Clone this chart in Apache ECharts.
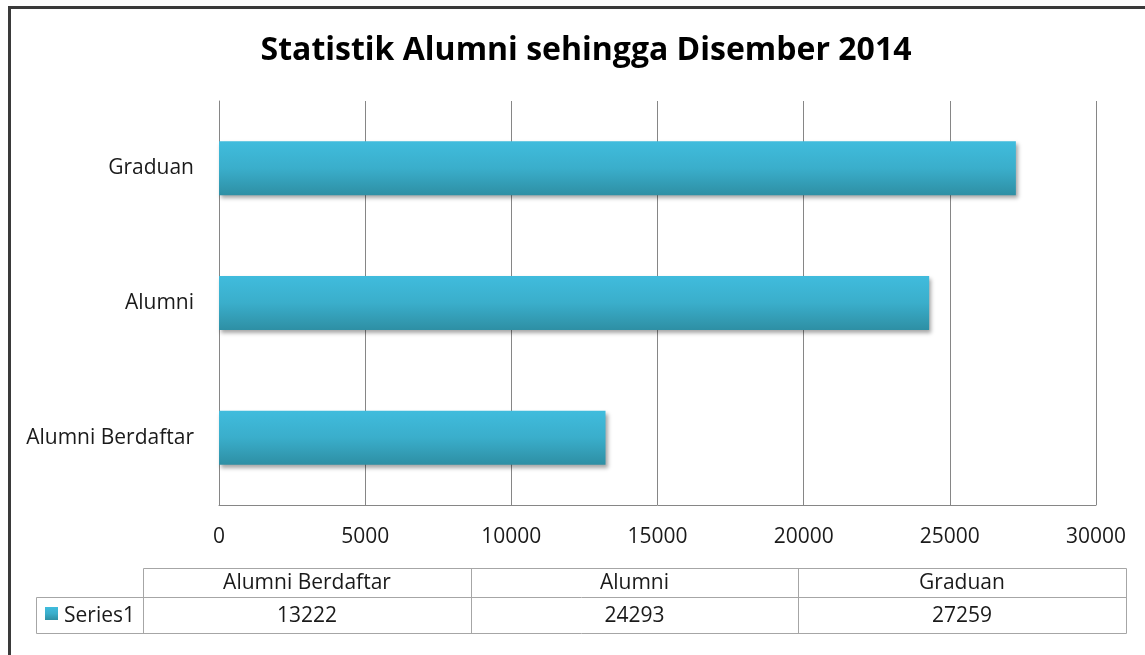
<!DOCTYPE html>
<html><head><meta charset="utf-8">
<script src="https://cdn.jsdelivr.net/npm/echarts@6/dist/echarts.min.js"></script>
<style>html,body{margin:0;padding:0;background:#fff}#c{width:1145px;height:655px}</style>
</head><body><div id="c"></div>
<script>
var title = 'Statistik Alumni sehingga Disember 2014';
var categories = ['Alumni Berdaftar', 'Alumni', 'Graduan'];
var seriesName = 'Series1';
var values = [13222, 24293, 27259];
var xTicks = [0, 5000, 10000, 15000, 20000, 25000, 30000];

var FONT = 'Open Sans';
var FS = 21;
var chart = echarts.init(document.getElementById('c'));
var barGrad = new echarts.graphic.LinearGradient(0, 0, 0, 1, [
  {offset: 0, color: '#40bcdd'}, {offset: 0.5, color: '#3aaecb'}, {offset: 1, color: '#2e8fa4'}
]);

var tableG = [];
var colX = [143, 471, 798, 1126];
var hdrTop = 568, midY = 597, botY = 633, legL = 36;
var lineStyle = {stroke: '#a6a6a6', lineWidth: 1};
function line(x1, y1, x2, y2) {
  tableG.push({type: 'line', shape: {x1: x1, y1: y1, x2: x2, y2: y2}, style: lineStyle, silent: true});
}
line(colX[0] + 0.5, hdrTop + 0.5, colX[3] + 0.5, hdrTop + 0.5);
line(legL + 0.5, midY + 0.5, colX[3] + 0.5, midY + 0.5);
line(legL + 0.5, botY + 0.5, colX[3] + 0.5, botY + 0.5);
line(legL + 0.5, midY + 0.5, legL + 0.5, botY + 0.5);
for (var i = 0; i < colX.length; i++) line(colX[i] + 0.5, hdrTop + 0.5, colX[i] + 0.5, botY + 0.5);
categories.forEach(function (c, i) {
  var cx = (colX[i] + colX[i + 1]) / 2;
  tableG.push({type: 'text', x: cx, y: (hdrTop + midY) / 2 + 1, style: {text: c, fontFamily: FONT, fontSize: FS, fill: '#1a1a1a', align: 'center', verticalAlign: 'middle'}});
  tableG.push({type: 'text', x: cx, y: (midY + botY) / 2 + 1, style: {text: String(values[i]), fontFamily: FONT, fontSize: FS, fill: '#1a1a1a', align: 'center', verticalAlign: 'middle'}});
});
tableG.push({type: 'rect', shape: {x: 45, y: 607, width: 13, height: 13}, style: {fill: barGrad}});
tableG.push({type: 'text', x: 64, y: (midY + botY) / 2 + 1, style: {text: seriesName, fontFamily: FONT, fontSize: FS, fill: '#1a1a1a', align: 'left', verticalAlign: 'middle'}});
tableG.push({type: 'rect', shape: {x: 9.5, y: 7.5, width: 1300, height: 800}, style: {fill: 'none', stroke: '#3a3a3a', lineWidth: 3}, silent: true});

chart.setOption({
  animation: false,
  title: {text: title, left: 581, textAlign: 'center', top: 30,
    textStyle: {fontFamily: FONT, fontSize: 32, fontWeight: 'bold', color: '#000'}},
  grid: {left: 219, right: 49, top: 101, bottom: 150, containLabel: false},
  xAxis: {type: 'value', min: 0, max: 30000, interval: 5000,
    axisLine: {show: true, lineStyle: {color: '#868686'}},
    axisTick: {show: false},
    splitLine: {show: true, lineStyle: {color: '#868686', width: 1}},
    axisLabel: {margin: 22, fontFamily: FONT, fontSize: FS, color: '#1a1a1a',
      formatter: function (v) { return xTicks.indexOf(v) >= 0 ? String(v) : ''; }}},
  yAxis: {type: 'category', data: categories,
    axisLine: {show: true, lineStyle: {color: '#868686'}},
    axisTick: {show: false},
    axisLabel: {margin: 25, fontFamily: FONT, fontSize: FS, color: '#1a1a1a'}},
  series: [{type: 'bar', name: seriesName, data: values, barWidth: 54,
    itemStyle: {color: barGrad, shadowColor: 'rgba(0,0,0,0.35)', shadowBlur: 4, shadowOffsetX: 2, shadowOffsetY: 3}}],
  graphic: tableG
});
</script></body></html>
